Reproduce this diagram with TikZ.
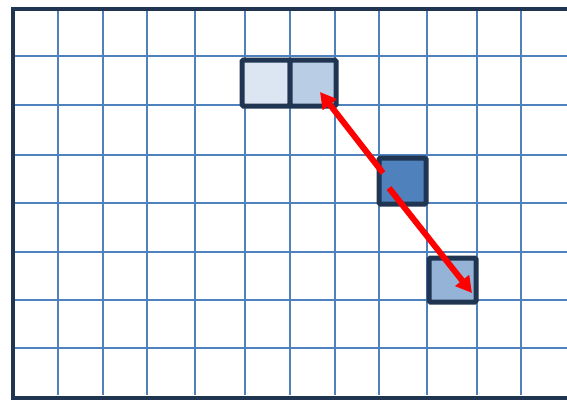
\documentclass[tikz,border=0pt]{standalone}
\usepackage{tikz}
\usetikzlibrary{arrows.meta,positioning}
\definecolor{cFrame}{HTML}{1F3552}
\definecolor{cGrid}{HTML}{4F81BD}
\definecolor{cPale}{HTML}{DCE6F2}
\definecolor{cLight}{HTML}{B9CDE5}
\definecolor{cMid}{HTML}{4F81BD}
\definecolor{cSoft}{HTML}{95B3D7}
\definecolor{cArrow}{HTML}{FF0000}
\tikzset{
  cell/.style   ={draw=cFrame, line width=5pt, rounded corners=1.5pt,
                  minimum width=46pt, minimum height=46pt, inner sep=0pt},
  gridline/.style={draw=cGrid, line width=1.6pt},
  frame/.style  ={draw=cFrame, line width=4.5pt},
  push/.style   ={-{Triangle[length=16pt,width=17pt]}, draw=cArrow, line width=6pt},
}
\begin{document}
\begin{tikzpicture}[x=1pt, y=-1pt]
        \useasboundingbox (0,0) rectangle (567,400);
        % grid
        \foreach \gx in {58,103,147,195,245,290,335,379,427,477,521}
          \draw[gridline] (\gx,10) -- (\gx,395);
        \foreach \gy in {56,105,155,203,252,300,348}
          \draw[gridline] (13,\gy) -- (567,\gy);
        % frame (left, top, bottom)
        \draw[frame] (567,9) -- (13,9) -- (13,398) -- (567,398);
        % cells
        \node[cell, fill=cPale, minimum width=48pt] (pairL) at (266,83) {};
        \node[cell, fill=cLight] (pairR) at (313,83) {};
        \node[cell, fill=cMid, minimum width=47pt] (centre) at (402.5,181) {};
        \node[cell, fill=cSoft, minimum width=47pt, minimum height=44pt] (target) at (452.5,280) {};
        % moves
        \coordinate (fromUp) at (383,173);
        \coordinate (fromDown) at (389,188);
        \coordinate (toUp) at (320,92);
        \coordinate (toDown) at (472,293);
        \draw[push] (fromUp) -- (toUp);
        \draw[push] (fromDown) -- (toDown);
      \end{tikzpicture}
\end{document}
